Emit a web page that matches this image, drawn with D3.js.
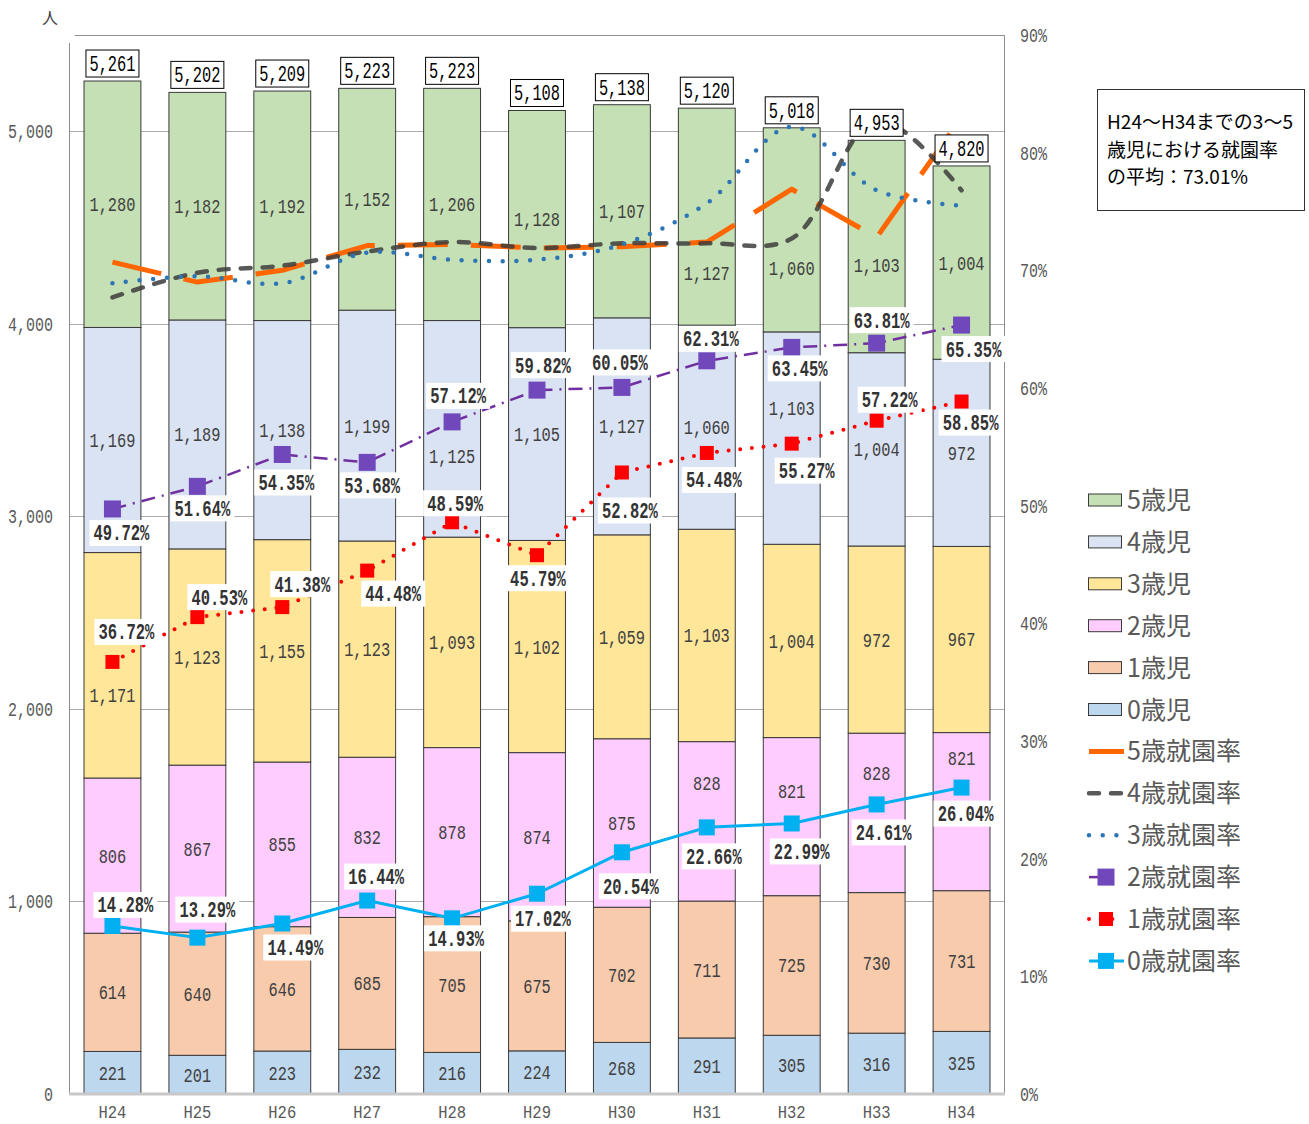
<!DOCTYPE html>
<html lang="ja">
<head>
<meta charset="UTF-8">
<title>就園率</title>
<script src="https://d3js.org/d3.v7.min.js"></script>
<style>
  body { margin: 0; background: #fff; }
  svg { display: block; }
</style>
</head>
<body>
<svg id="chart" width="1309" height="1124"></svg>
<script>
// categories
const categories = ["H24", "H25", "H26", "H27", "H28", "H29", "H30", "H31", "H32", "H33", "H34"];

// children by age (人)
const age0 = [221, 201, 223, 232, 216, 224, 268, 291, 305, 316, 325];
const age1 = [614, 640, 646, 685, 705, 675, 702, 711, 725, 730, 731];
const age2 = [806, 867, 855, 832, 878, 874, 875, 828, 821, 828, 821];
const age3 = [1171, 1123, 1155, 1123, 1093, 1102, 1059, 1103, 1004, 972, 967];
const age4 = [1169, 1189, 1138, 1199, 1125, 1105, 1127, 1060, 1103, 1004, 972];
const age5 = [1280, 1182, 1192, 1152, 1206, 1128, 1107, 1127, 1060, 1103, 1004];
const totals = [5261, 5202, 5209, 5223, 5223, 5108, 5138, 5120, 5018, 4953, 4820];

// enrolment rates (%)
const rate5 = [70.7, 69.0, 70.0, 72.1, 72.2, 71.9, 72.0, 72.4, 76.9, 72.8, 83.0];
const rate4 = [67.7, 69.8, 70.4, 71.6, 72.4, 71.9, 72.3, 72.3, 72.7, 82.8, 76.8];
const rate3 = [68.9, 69.5, 68.9, 71.5, 70.9, 70.9, 72.2, 75.7, 82.2, 76.8, 75.5];
const rate2 = [49.72, 51.64, 54.35, 53.68, 57.12, 59.82, 60.05, 62.31, 63.45, 63.81, 65.35];
const rate1 = [36.72, 40.53, 41.38, 44.48, 48.59, 45.79, 52.82, 54.48, 55.27, 57.22, 58.85];
const rate0 = [14.28, 13.29, 14.49, 16.44, 14.93, 17.02, 20.54, 22.66, 22.99, 24.61, 26.04];

// axis ticks
const leftTicks = [0, 1000, 2000, 3000, 4000, 5000];
const rightTicks = [0, 10, 20, 30, 40, 50, 60, 70, 80, 90];

// layout tweaks: manual label moves (px) like in the original sheet
const barLabelShift = {
  age5: { 7: 56, 8: 38, 9: 18 },
  age4: { 4: 27, 8: -30 },
  age3: { 0: 30 },
  age2: { 7: -38, 8: -26, 9: -40, 10: -54 }
};
const rateLabelOffset = {
  rate2: [[9, 24], [5, 22], [4, 28], [5, 23], [6, -26], [6, -25], [-2, -25], [4, -22], [8, 21], [5, -23], [12, 24]],
  rate1: [[14, -30], [22, -20], [20, -23], [26, 23], [3, -19], [1, 23], [8, 38], [7, 27], [15, 27], [13, -21], [9, 21]],
  rate0: [[13, -21], [10, -28], [13, 24], [9, -24], [4, 20], [6, 25], [9, 34], [7, 29], [10, 28], [7, 28], [4, 26]]
};

const svg = d3.select("#chart");
const mono = "'Liberation Mono', 'DejaVu Sans Mono', monospace";
const jp = "'Noto Sans CJK JP', 'Noto Sans', sans-serif";

const plot = { left: 70, right: 1004, top: 35, bottom: 1094 };

const x = d3.scaleBand()
  .domain(categories)
  .range([plot.left, plot.right])
  .paddingInner(0.33)
  .paddingOuter(0.165);

const y = d3.scaleLinear().domain([0, 5500]).range([plot.bottom, plot.top]);
const y2 = d3.scaleLinear().domain([0, 90]).range([plot.bottom, plot.top]);

const fmt = d3.format(",");
const cx = c => x(c) + x.bandwidth() / 2;

// squeeze mono text to a condensed look
function fit(sel, perChar) {
  sel.attr("textLength", function () { return this.textContent.length * perChar; })
    .attr("lengthAdjust", "spacingAndGlyphs");
}

// gridlines
svg.append("g")
  .selectAll("line")
  .data(leftTicks.filter(d => d > 0))
  .join("line")
  .attr("x1", plot.left).attr("x2", plot.right)
  .attr("y1", d => Math.round(y(d)) + 0.5).attr("y2", d => Math.round(y(d)) + 0.5)
  .attr("stroke", "#ABABAB");

// plot border (top + right) and left axis line
svg.append("path")
  .attr("d", `M${plot.left + 5},${plot.top + 0.5}H${plot.right + 0.5}V${plot.bottom}`)
  .attr("fill", "none").attr("stroke", "#8C8C8C");
svg.append("line")
  .attr("x1", plot.left - 0.5).attr("x2", plot.left - 0.5)
  .attr("y1", plot.top + 8).attr("y2", plot.bottom)
  .attr("stroke", "#8C8C8C");

// stacked bars
const rows = categories.map((c, i) => ({
  cat: c, age0: age0[i], age1: age1[i], age2: age2[i], age3: age3[i], age4: age4[i], age5: age5[i]
}));
const keys = ["age0", "age1", "age2", "age3", "age4", "age5"];
const barColors = {
  age0: "#BDD7EE", age1: "#F8CBAD", age2: "#FFCCFF",
  age3: "#FFE699", age4: "#DAE3F3", age5: "#C5E0B4"
};
const stacked = d3.stack().keys(keys)(rows);

const layers = svg.append("g").selectAll("g")
  .data(stacked)
  .join("g")
  .attr("fill", d => barColors[d.key]);

layers.selectAll("rect")
  .data(d => d)
  .join("rect")
  .attr("x", d => x(d.data.cat))
  .attr("y", d => y(d[1]))
  .attr("width", x.bandwidth())
  .attr("height", d => y(d[0]) - y(d[1]))
  .attr("stroke", "#3A3A3A")
  .attr("stroke-width", 1);

// baseline
svg.append("line")
  .attr("x1", plot.left - 1).attr("x2", plot.right + 1)
  .attr("y1", plot.bottom).attr("y2", plot.bottom)
  .attr("stroke", "#C8C8C8").attr("stroke-width", 3);

// in-bar value labels
stacked.forEach(layer => {
  const shift = barLabelShift[layer.key] || {};
  svg.append("g").selectAll("text")
    .data(layer)
    .join("text")
    .attr("x", d => cx(d.data.cat))
    .attr("y", (d, i) => (y(d[0]) + y(d[1])) / 2 + 7 + (shift[i] || 0))
    .attr("text-anchor", "middle")
    .attr("font-family", mono)
    .attr("font-size", 21)
    .attr("fill", "#404040")
    .text(d => fmt(d[1] - d[0]))
    .call(fit, 9.2);
});

// rate lines
const rateSeries = [
  { key: "rate5", name: "5歳就園率", values: rate5, color: "#FF6600", width: 5, dash: "50,23", cap: "butt", curve: d3.curveLinear },
  { key: "rate4", name: "4歳就園率", values: rate4, color: "#3C3C3C", width: 4.5, dash: "10,12", cap: "round", curve: d3.curveCatmullRom, opacity: 0.85 },
  { key: "rate3", name: "3歳就園率", values: rate3, color: "#2E75B6", width: 4.5, dash: "0,13.7", cap: "round", curve: d3.curveCatmullRom },
  { key: "rate2", name: "2歳就園率", values: rate2, color: "#7030A0", width: 2.5, dash: "14,7,2,7", cap: "butt", curve: d3.curveLinear, marker: { size: 17, fill: "#7048BC" } },
  { key: "rate1", name: "1歳就園率", values: rate1, color: "#FF0000", width: 4, dash: "0,11.7", cap: "round", curve: d3.curveLinear, marker: { size: 14, fill: "#FF0000" } },
  { key: "rate0", name: "0歳就園率", values: rate0, color: "#00B0F0", width: 3, dash: null, cap: "butt", curve: d3.curveLinear, marker: { size: 16, fill: "#00B0F0" } }
];

rateSeries.forEach(s => {
  const pts = s.values.map((v, i) => [cx(categories[i]), y2(v)]);
  svg.append("path")
    .datum(pts)
    .attr("fill", "none")
    .attr("stroke", s.color)
    .attr("stroke-width", s.width)
    .attr("stroke-dasharray", s.dash)
    .attr("stroke-linecap", s.cap)
    .attr("stroke-linejoin", "round")
    .attr("stroke-opacity", s.opacity || 1)
    .attr("d", d3.line().curve(s.curve));
  if (s.marker) {
    svg.append("g").selectAll("rect")
      .data(pts)
      .join("rect")
      .attr("x", d => d[0] - s.marker.size / 2)
      .attr("y", d => d[1] - s.marker.size / 2)
      .attr("width", s.marker.size).attr("height", s.marker.size)
      .attr("fill", s.marker.fill);
  }
});

// total labels in boxes (on top of the lines)
const totalG = svg.append("g").selectAll("g")
  .data(categories.map((c, i) => ({ cat: c, v: totals[i] })))
  .join("g")
  .attr("transform", d => `translate(${cx(d.cat)},${y(d.v) - 4})`);
totalG.append("rect")
  .attr("x", -26.5).attr("y", -27).attr("width", 53).attr("height", 27)
  .attr("fill", "#fff").attr("stroke", "#000");
totalG.append("text")
  .attr("y", -6).attr("text-anchor", "middle")
  .attr("font-family", mono).attr("font-size", 22).attr("fill", "#000")
  .text(d => fmt(d.v))
  .call(fit, 9.2);

// rate labels (2, 1, 0歳)
rateSeries.filter(s => rateLabelOffset[s.key]).forEach(s => {
  const offs = rateLabelOffset[s.key];
  const g = svg.append("g").selectAll("g")
    .data(s.values.map((v, i) => ({ v, i })))
    .join("g")
    .attr("transform", d => `translate(${cx(categories[d.i]) + offs[d.i][0]},${y2(d.v) + offs[d.i][1]})`);
  g.append("rect")
    .attr("x", -32).attr("y", -13).attr("width", 64).attr("height", 26)
    .attr("fill", "#fff");
  g.append("text")
    .attr("y", 7.5).attr("text-anchor", "middle")
    .attr("font-family", mono).attr("font-weight", "bold").attr("font-size", 22)
    .attr("fill", "#333")
    .text(d => d.v.toFixed(2) + "%")
    .call(fit, 9.3);
});

// left axis labels
svg.append("g").selectAll("text")
  .data(leftTicks)
  .join("text")
  .attr("x", 53).attr("y", d => y(d) + 7)
  .attr("text-anchor", "end")
  .attr("font-family", mono).attr("font-size", 20).attr("fill", "#595959")
  .text(d => fmt(d))
  .call(fit, 9);

// right axis labels
svg.append("g").selectAll("text")
  .data(rightTicks)
  .join("text")
  .attr("x", 1020).attr("y", d => y2(d) + 7)
  .attr("font-family", mono).attr("font-size", 20).attr("fill", "#595959")
  .text(d => d + "%")
  .call(fit, 9);

// category labels
svg.append("g").selectAll("text")
  .data(categories)
  .join("text")
  .attr("x", d => cx(d)).attr("y", 1118)
  .attr("text-anchor", "middle")
  .attr("font-family", mono).attr("font-size", 18).attr("fill", "#595959")
  .text(d => d)
  .call(fit, 9.3);

// unit
svg.append("text")
  .attr("x", 42).attr("y", 24)
  .attr("font-family", jp).attr("font-size", 16).attr("fill", "#404040")
  .text("人");

// note box
svg.append("rect")
  .attr("x", 1097.5).attr("y", 89.5).attr("width", 207).attr("height", 121)
  .attr("fill", "#fff").attr("stroke", "#333");
svg.append("g").selectAll("text")
  .data(["H24～H34までの3～5", "歳児における就園率", "の平均：73.01%"])
  .join("text")
  .attr("x", 1107).attr("y", (d, i) => 129 + i * 27.5)
  .attr("font-family", jp).attr("font-size", 19).attr("fill", "#000")
  .text(d => d);

// legend
const legendItems = [
  { type: "bar", name: "5歳児", color: barColors.age5 },
  { type: "bar", name: "4歳児", color: barColors.age4 },
  { type: "bar", name: "3歳児", color: barColors.age3 },
  { type: "bar", name: "2歳児", color: barColors.age2 },
  { type: "bar", name: "1歳児", color: barColors.age1 },
  { type: "bar", name: "0歳児", color: barColors.age0 },
  ...rateSeries.map(s => ({ type: "line", name: s.name, s }))
];

const lg = svg.append("g").selectAll("g")
  .data(legendItems)
  .join("g")
  .attr("transform", (d, i) => `translate(1088,${500 + i * 41.9})`);

lg.filter(d => d.type === "bar").append("rect")
  .attr("x", 0.5).attr("y", -6).attr("width", 33).attr("height", 12)
  .attr("fill", d => d.color).attr("stroke", "#3A3A3A");

lg.filter(d => d.type === "line").each(function (d) {
  const g = d3.select(this);
  const s = d.s;
  g.append("line")
    .attr("x1", 1).attr("x2", s.key === "rate2" ? 14 : 36)
    .attr("y1", 0).attr("y2", 0)
    .attr("stroke", s.color).attr("stroke-width", s.width)
    .attr("stroke-dasharray", s.dash).attr("stroke-linecap", s.cap)
    .attr("stroke-opacity", s.opacity || 1);
  if (s.marker) {
    g.append("rect")
      .attr("x", 18 - s.marker.size / 2).attr("y", -s.marker.size / 2)
      .attr("width", s.marker.size).attr("height", s.marker.size)
      .attr("fill", s.marker.fill);
  }
});

lg.append("text")
  .attr("x", 39).attr("y", 9)
  .attr("font-family", jp).attr("font-size", 25).attr("fill", "#595959")
  .text(d => d.name);
</script>
</body>
</html>
